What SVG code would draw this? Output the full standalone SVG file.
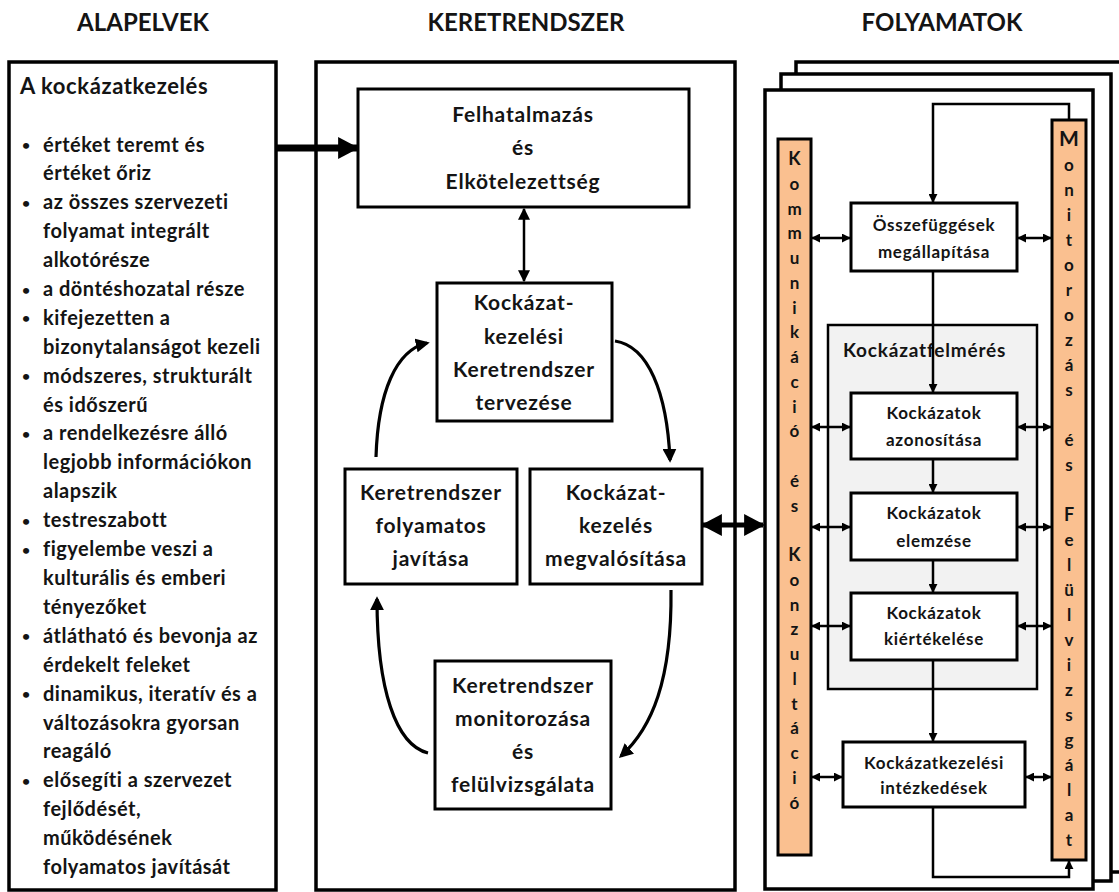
<svg xmlns="http://www.w3.org/2000/svg" width="1119" height="892" viewBox="0 0 1119 892">
<style>
text{font-family:"Lato","Carlito","Liberation Sans",sans-serif;font-weight:bold;fill:#141414}
.hdr{font-size:24px;text-anchor:middle}
.lst{font-size:20px;letter-spacing:0.5px}
.mid{font-size:21px;letter-spacing:0.8px;text-anchor:middle}
.prc{font-size:17px;letter-spacing:0.7px;text-anchor:middle}
.vl{font-size:17px;text-anchor:middle}
.outer{fill:#fff;stroke:#000;stroke-width:3.5}
.box{fill:#fff;stroke:#000;stroke-width:3}
.bar{fill:#FAC090;stroke:#000;stroke-width:3}
.grey{fill:#F2F2F2;stroke:#000;stroke-width:2.5}
.ln{fill:none;stroke:#000;stroke-width:2.5}
.cv{fill:none;stroke:#000;stroke-width:3.2}
</style>
<defs>
<marker id="sa" viewBox="0 0 10 10" refX="9" refY="5" markerWidth="9" markerHeight="9" markerUnits="userSpaceOnUse" orient="auto-start-reverse"><path d="M0,0 L10,5 L0,10 z" fill="#000"/></marker>
<marker id="ca" viewBox="0 0 10 10" refX="8" refY="5" markerWidth="14" markerHeight="14" markerUnits="userSpaceOnUse" orient="auto-start-reverse"><path d="M0,0 L10,5 L0,10 z" fill="#000"/></marker>
<marker id="ma" viewBox="0 0 10 10" refX="9" refY="5" markerWidth="12" markerHeight="12" markerUnits="userSpaceOnUse" orient="auto-start-reverse"><path d="M0,0 L10,5 L0,10 z" fill="#000"/></marker>
<marker id="ba" viewBox="0 0 10 10" refX="9" refY="5" markerWidth="21" markerHeight="22" markerUnits="userSpaceOnUse" orient="auto-start-reverse" preserveAspectRatio="none"><path d="M0,0 L10,5 L0,10 z" fill="#000"/></marker>
</defs>

<!-- headers -->
<text class="hdr" x="143" y="31">ALAPELVEK</text>
<text class="hdr" x="526" y="31">KERETRENDSZER</text>
<text class="hdr" x="942" y="31">FOLYAMATOK</text>

<!-- left column -->
<g id="alapelvek">
<rect class="outer" x="9" y="62" width="267" height="828"/>
<text x="20" y="94" style="font-size:22px;letter-spacing:0.6px">A kockázatkezelés</text>
<text x="20" y="150" style="font-size:14px"><tspan x="22">•</tspan><tspan x="22" dy="57.8">•</tspan><tspan x="22" dy="86.7">•</tspan><tspan x="22" dy="28.9">•</tspan><tspan x="22" dy="57.8">•</tspan><tspan x="22" dy="57.8">•</tspan><tspan x="22" dy="86.7">•</tspan><tspan x="22" dy="28.9">•</tspan><tspan x="22" dy="86.7">•</tspan><tspan x="22" dy="57.8">•</tspan><tspan x="22" dy="86.7">•</tspan></text>
<text class="lst" x="43" y="151.5"><tspan x="43">értéket teremt és</tspan><tspan x="43" dy="28.9">értéket őriz</tspan><tspan x="43" dy="28.9">az összes szervezeti</tspan><tspan x="43" dy="28.9">folyamat integrált</tspan><tspan x="43" dy="28.9">alkotórésze</tspan><tspan x="43" dy="28.9">a döntéshozatal része</tspan><tspan x="43" dy="28.9">kifejezetten a</tspan><tspan x="43" dy="28.9">bizonytalanságot kezeli</tspan><tspan x="43" dy="28.9">módszeres, strukturált</tspan><tspan x="43" dy="28.9">és időszerű</tspan><tspan x="43" dy="28.9">a rendelkezésre álló</tspan><tspan x="43" dy="28.9">legjobb információkon</tspan><tspan x="43" dy="28.9">alapszik</tspan><tspan x="43" dy="28.9">testreszabott</tspan><tspan x="43" dy="28.9">figyelembe veszi a</tspan><tspan x="43" dy="28.9">kulturális és emberi</tspan><tspan x="43" dy="28.9">tényezőket</tspan><tspan x="43" dy="28.9">átlátható és bevonja az</tspan><tspan x="43" dy="28.9">érdekelt feleket</tspan><tspan x="43" dy="28.9">dinamikus, iteratív és a</tspan><tspan x="43" dy="28.9">változásokra gyorsan</tspan><tspan x="43" dy="28.9">reagáló</tspan><tspan x="43" dy="28.9">elősegíti a szervezet</tspan><tspan x="43" dy="28.9">fejlődését,</tspan><tspan x="43" dy="28.9">működésének</tspan><tspan x="43" dy="28.9">folyamatos javítását</tspan></text>
</g>

<!-- middle frame -->
<g id="keretrendszer">
<rect class="outer" x="316" y="62" width="419" height="828"/>
</g>

<!-- right stacked frames -->
<g id="folyamatok">
<rect class="outer" x="796" y="62" width="340" height="810"/>
<rect class="outer" x="781" y="74" width="330" height="807"/>
<rect class="outer" x="765" y="90" width="328" height="799"/>
</g>

<g id="n-felhatalmazas">
<rect class="box" x="358" y="89" width="331" height="118"/>
<text class="mid" x="523" y="122">Felhatalmazás</text>
<text class="mid" x="523" y="155">és</text>
<text class="mid" x="523" y="189">Elkötelezettség</text>
</g>

<g id="n-tervezes">
<rect class="box" x="437" y="283" width="175" height="138"/>
<text class="mid" x="524" y="310">Kockázat-</text>
<text class="mid" x="524" y="344">kezelési</text>
<text class="mid" x="524" y="377">Keretrendszer</text>
<text class="mid" x="524" y="410">tervezése</text>
</g>

<g id="n-javitas">
<rect class="box" x="345" y="469" width="172" height="115"/>
<text class="mid" x="431" y="500">Keretrendszer</text>
<text class="mid" x="431" y="533">folyamatos</text>
<text class="mid" x="431" y="566">javítása</text>
</g>

<g id="n-megvalositas">
<rect class="box" x="530" y="469" width="172" height="115"/>
<text class="mid" x="616" y="500">Kockázat-</text>
<text class="mid" x="616" y="533">kezelés</text>
<text class="mid" x="616" y="566">megvalósítása</text>
</g>

<g id="n-monitorozas">
<rect class="box" x="435" y="661" width="176" height="148"/>
<text class="mid" x="523" y="693">Keretrendszer</text>
<text class="mid" x="523" y="726">monitorozása</text>
<text class="mid" x="523" y="759">és</text>
<text class="mid" x="523" y="792">felülvizsgálata</text>
</g>

<g id="n-kockazatfelmeres">
<rect class="grey" x="828" y="325" width="209" height="364"/>
<text x="843" y="357" style="font-size:19px;letter-spacing:0.8px">Kockázatfelmérés</text>
</g>

<g id="n-kommunikacio">
<rect class="bar" x="778" y="139" width="33" height="716"/>
<text class="vl" x="794.5" y="165"><tspan x="794.5" style="font-size:18px">K</tspan><tspan x="794.5" dy="24.75">o</tspan><tspan x="794.5" dy="24.75">m</tspan><tspan x="794.5" dy="24.75">m</tspan><tspan x="794.5" dy="24.75">u</tspan><tspan x="794.5" dy="24.75">n</tspan><tspan x="794.5" dy="24.75">i</tspan><tspan x="794.5" dy="24.75">k</tspan><tspan x="794.5" dy="24.75">á</tspan><tspan x="794.5" dy="24.75">c</tspan><tspan x="794.5" dy="24.75">i</tspan><tspan x="794.5" dy="24.75">ó</tspan><tspan x="794.5" dy="49.5">é</tspan><tspan x="794.5" dy="24.75">s</tspan><tspan x="794.5" dy="49.5" style="font-size:18px">K</tspan><tspan x="794.5" dy="24.75">o</tspan><tspan x="794.5" dy="24.75">n</tspan><tspan x="794.5" dy="24.75">z</tspan><tspan x="794.5" dy="24.75">u</tspan><tspan x="794.5" dy="24.75">l</tspan><tspan x="794.5" dy="24.75">t</tspan><tspan x="794.5" dy="24.75">á</tspan><tspan x="794.5" dy="24.75">c</tspan><tspan x="794.5" dy="24.75">i</tspan><tspan x="794.5" dy="24.75">ó</tspan></text>
</g>

<g id="n-monitorozas-felulvizsgalat">
<rect class="bar" x="1052" y="120" width="34" height="740"/>
<text class="vl" x="1069" y="146"><tspan x="1069" style="font-size:21px">M</tspan><tspan x="1069" dy="25">o</tspan><tspan x="1069" dy="25">n</tspan><tspan x="1069" dy="25">i</tspan><tspan x="1069" dy="25">t</tspan><tspan x="1069" dy="25">o</tspan><tspan x="1069" dy="25">r</tspan><tspan x="1069" dy="25">o</tspan><tspan x="1069" dy="25">z</tspan><tspan x="1069" dy="25">á</tspan><tspan x="1069" dy="25">s</tspan><tspan x="1069" dy="50">é</tspan><tspan x="1069" dy="25">s</tspan><tspan x="1069" dy="50" style="font-size:18px">F</tspan><tspan x="1069" dy="25">e</tspan><tspan x="1069" dy="25">l</tspan><tspan x="1069" dy="25">ü</tspan><tspan x="1069" dy="25">l</tspan><tspan x="1069" dy="25">v</tspan><tspan x="1069" dy="25">i</tspan><tspan x="1069" dy="25">z</tspan><tspan x="1069" dy="25">s</tspan><tspan x="1069" dy="25">g</tspan><tspan x="1069" dy="25">á</tspan><tspan x="1069" dy="25">l</tspan><tspan x="1069" dy="25">a</tspan><tspan x="1069" dy="25">t</tspan></text>
</g>

<g id="n-osszefuggesek">
<rect class="box" x="851" y="203" width="166" height="68"/>
<text class="prc" x="934" y="231">Összefüggések</text>
<text class="prc" x="934" y="258">megállapítása</text>
</g>

<g id="n-azonositas">
<rect class="box" x="851" y="393" width="166" height="66"/>
<text class="prc" x="934" y="419">Kockázatok</text>
<text class="prc" x="934" y="446">azonosítása</text>
</g>

<g id="n-elemzes">
<rect class="box" x="851" y="493" width="166" height="67"/>
<text class="prc" x="934" y="519">Kockázatok</text>
<text class="prc" x="934" y="547">elemzése</text>
</g>

<g id="n-kiertekeles">
<rect class="box" x="851" y="593" width="166" height="67"/>
<text class="prc" x="934" y="619">Kockázatok</text>
<text class="prc" x="934" y="645">kiértékelése</text>
</g>

<g id="n-intezkedesek">
<rect class="box" x="843" y="742" width="182" height="65"/>
<text class="prc" x="934" y="769">Kockázatkezelési</text>
<text class="prc" x="934" y="794">intézkedések</text>
</g>

<g id="connectors">
<!-- thick arrow from principles -->
<line x1="276" y1="148" x2="357" y2="148" stroke="#000" stroke-width="7" marker-end="url(#ba)"/>
<!-- Felhatalmazás <-> tervezés -->
<line class="ln" x1="524" y1="209" x2="524" y2="281" stroke-width="3" marker-start="url(#ma)" marker-end="url(#ma)"/>
<!-- cycle -->
<path class="cv" d="M615,341 C648,346 667,392 670,460" marker-end="url(#ca)"/>
<path class="cv" d="M671,590 C672,680 652,728 621,756" marker-end="url(#ca)"/>
<path class="cv" d="M428,753 C396,745 377,690 377,599" marker-end="url(#ca)"/>
<path class="cv" d="M376,457 C378,392 396,350 427,343" marker-end="url(#ca)"/>
<!-- big double arrow -->
<line x1="703" y1="525" x2="763" y2="525" stroke="#000" stroke-width="5" marker-start="url(#ba)" marker-end="url(#ba)"/>
<!-- process flow -->
<path class="ln" d="M1069,120 V104 H933 V202" marker-end="url(#sa)"/>
<line class="ln" x1="933" y1="271" x2="933" y2="392" marker-end="url(#sa)"/>
<line class="ln" x1="933" y1="459" x2="933" y2="492" marker-end="url(#sa)"/>
<line class="ln" x1="933" y1="560" x2="933" y2="592" marker-end="url(#sa)"/>
<line class="ln" x1="933" y1="660" x2="933" y2="741" marker-end="url(#sa)"/>
<path class="ln" d="M933,807 V877 H1069 V861" marker-end="url(#sa)"/>
<!-- side double arrows -->
<line class="ln" x1="812" y1="238" x2="850" y2="238" marker-start="url(#sa)" marker-end="url(#sa)"/>
<line class="ln" x1="1018" y1="238" x2="1051" y2="238" marker-start="url(#sa)" marker-end="url(#sa)"/>
<line class="ln" x1="812" y1="427" x2="850" y2="427" marker-start="url(#sa)" marker-end="url(#sa)"/>
<line class="ln" x1="1018" y1="427" x2="1051" y2="427" marker-start="url(#sa)" marker-end="url(#sa)"/>
<line class="ln" x1="812" y1="527" x2="850" y2="527" marker-start="url(#sa)" marker-end="url(#sa)"/>
<line class="ln" x1="1018" y1="527" x2="1051" y2="527" marker-start="url(#sa)" marker-end="url(#sa)"/>
<line class="ln" x1="812" y1="626" x2="850" y2="626" marker-start="url(#sa)" marker-end="url(#sa)"/>
<line class="ln" x1="1018" y1="626" x2="1051" y2="626" marker-start="url(#sa)" marker-end="url(#sa)"/>
<line class="ln" x1="812" y1="777" x2="842" y2="777" marker-start="url(#sa)" marker-end="url(#sa)"/>
<line class="ln" x1="1026" y1="777" x2="1051" y2="777" marker-start="url(#sa)" marker-end="url(#sa)"/>
</g>
</svg>
